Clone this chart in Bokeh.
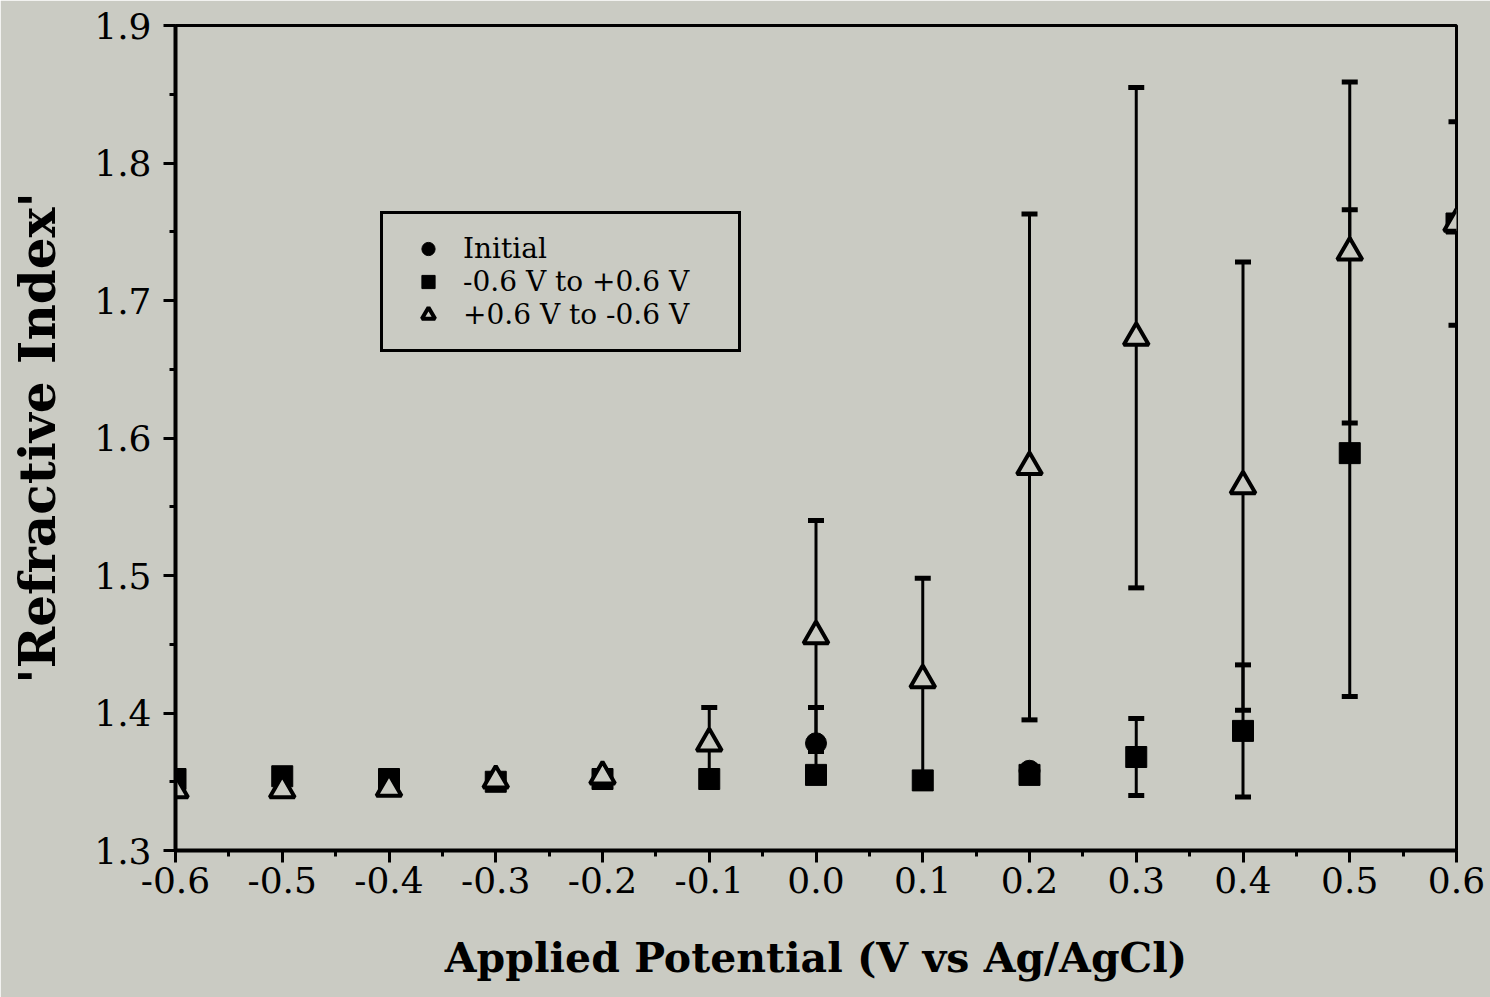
from bokeh.plotting import figure
from bokeh.models import (ColumnDataSource, Whisker, TeeHead, FixedTicker, Range1d,
                          Legend, LegendItem)
from bokeh.embed import file_html
from bokeh.resources import INLINE

# ---- data ----
potential = [-0.6, -0.5, -0.4, -0.3, -0.2, -0.1, 0.0, 0.1, 0.2, 0.3, 0.4, 0.5, 0.6]

# +0.6 V to -0.6 V (open triangles)
down_n = [1.344, 1.344, 1.345, 1.351, 1.354, 1.378, 1.456, 1.424, 1.579, 1.673, 1.565, 1.735, 1.756]
down_err = [0, 0, 0, 0, 0, 0.026, 0.084, 0.074, 0.184, 0.182, 0.163, 0.124, 0.074]

# -0.6 V to +0.6 V (filled squares)
up_n = [1.352, 1.354, 1.352, 1.350, 1.352, 1.352, 1.355, 1.351, 1.355, 1.368, 1.387, 1.589, 1.756]
up_err = [0, 0, 0, 0, 0, 0, 0, 0, 0, 0.028, 0.048, 0.177, 0]

# Initial (filled circles)
init_x = [0.0, 0.2]
init_n = [1.378, 1.358]
init_err = [0.026, 0]

x_ticks = [-0.6, -0.5, -0.4, -0.3, -0.2, -0.1, 0.0, 0.1, 0.2, 0.3, 0.4, 0.5, 0.6]
x_tick_labels = ["-0.6", "-0.5", "-0.4", "-0.3", "-0.2", "-0.1", "0.0", "0.1", "0.2", "0.3", "0.4", "0.5", "0.6"]
x_minor = [-0.55, -0.45, -0.35, -0.25, -0.15, -0.05, 0.05, 0.15, 0.25, 0.35, 0.45, 0.55]
y_ticks = [1.3, 1.4, 1.5, 1.6, 1.7, 1.8, 1.9]
y_tick_labels = ["1.3", "1.4", "1.5", "1.6", "1.7", "1.8", "1.9"]
y_minor = [1.35, 1.45, 1.55, 1.65, 1.75, 1.85]

series_labels = ["Initial", "-0.6 V to +0.6 V", "+0.6 V to -0.6 V"]
x_title = "Applied Potential (V vs Ag/AgCl)"
y_title = "'Refractive Index'"

BG = "#cacbc3"
SERIF = "DejaVu Serif"

p = figure(width=1490, height=997, output_backend="svg", toolbar_location=None,
           x_range=Range1d(-0.6, 0.6), y_range=Range1d(1.3, 1.9),
           min_border_left=175, min_border_right=34, min_border_top=25, min_border_bottom=147)
p.background_fill_color = BG
p.border_fill_color = BG
p.outline_line_color = "black"
p.outline_line_width = 3
p.outline_line_alpha = 1
p.grid.visible = False

def err_source(xs, ys, es):
    xx, lo, hi = [], [], []
    for x, y, e in zip(xs, ys, es):
        if e > 0:
            xx.append(x); lo.append(y - e); hi.append(y + e)
    return ColumnDataSource(dict(x=xx, lower=lo, upper=hi))

for xs, ys, es in [(potential, down_n, down_err), (potential, up_n, up_err), (init_x, init_n, init_err)]:
    src = err_source(xs, ys, es)
    w = Whisker(base="x", lower="lower", upper="upper", source=src,
                line_color="black", line_width=3,
                upper_head=TeeHead(size=16, line_width=5, line_color="black"),
                lower_head=TeeHead(size=16, line_width=5, line_color="black"))
    p.add_layout(w)

sq = p.scatter(potential, up_n, marker="square", size=21, fill_color="black", line_color="black")
ci = p.scatter(init_x, init_n, marker="circle", size=21, fill_color="black", line_color="black")
tr = p.scatter(potential, down_n, marker="triangle", size=25, fill_color=BG,
               line_color="black", line_width=4)

legend = Legend(items=[LegendItem(label=series_labels[0], renderers=[ci]),
                       LegendItem(label=series_labels[1], renderers=[sq]),
                       LegendItem(label=series_labels[2], renderers=[tr])],
                location=(205, 498))
legend.glyph_width = 54
legend.glyph_height = 33
legend.spacing = 0
legend.padding = 18
legend.label_standoff = 8
legend.label_width = 257
legend.label_height = 30
legend.label_text_font = SERIF
legend.label_text_font_size = "28px"
legend.label_text_color = "black"
legend.border_line_color = "black"
legend.border_line_alpha = 1
legend.border_line_width = 3
legend.background_fill_color = BG
legend.background_fill_alpha = 1
legend.margin = 0
p.add_layout(legend, "center")

xa = p.xaxis[0]
xa.ticker = FixedTicker(ticks=x_ticks, minor_ticks=x_minor)
xa.major_label_overrides = {t: l for t, l in zip(x_ticks, x_tick_labels)}
ya = p.yaxis[0]
ya.ticker = FixedTicker(ticks=y_ticks, minor_ticks=y_minor)
ya.major_label_overrides = {t: l for t, l in zip(y_ticks, y_tick_labels)}

for ax in (xa, ya):
    ax.axis_line_width = 4
    ax.axis_line_color = "black"
    ax.major_tick_in = 0
    ax.major_tick_out = 12
    ax.minor_tick_in = 0
    ax.minor_tick_out = 6
    ax.major_tick_line_width = 3
    ax.minor_tick_line_width = 3
    ax.major_tick_line_color = "black"
    ax.minor_tick_line_color = "black"
    ax.major_label_text_font = SERIF
    ax.major_label_text_font_size = "36px"
    ax.major_label_text_color = "black"
    ax.axis_label_text_font = SERIF
    ax.axis_label_text_font_style = "bold"
    ax.axis_label_text_color = "black"

xa.axis_label = x_title
xa.axis_label_text_font_size = "41px"
xa.major_label_standoff = 4
xa.axis_label_standoff = 38
ya.axis_label = y_title
ya.axis_label_text_font_size = "50px"
ya.major_label_standoff = 12
ya.axis_label_standoff = 24

open("out.html", "w").write(file_html(p, INLINE))
